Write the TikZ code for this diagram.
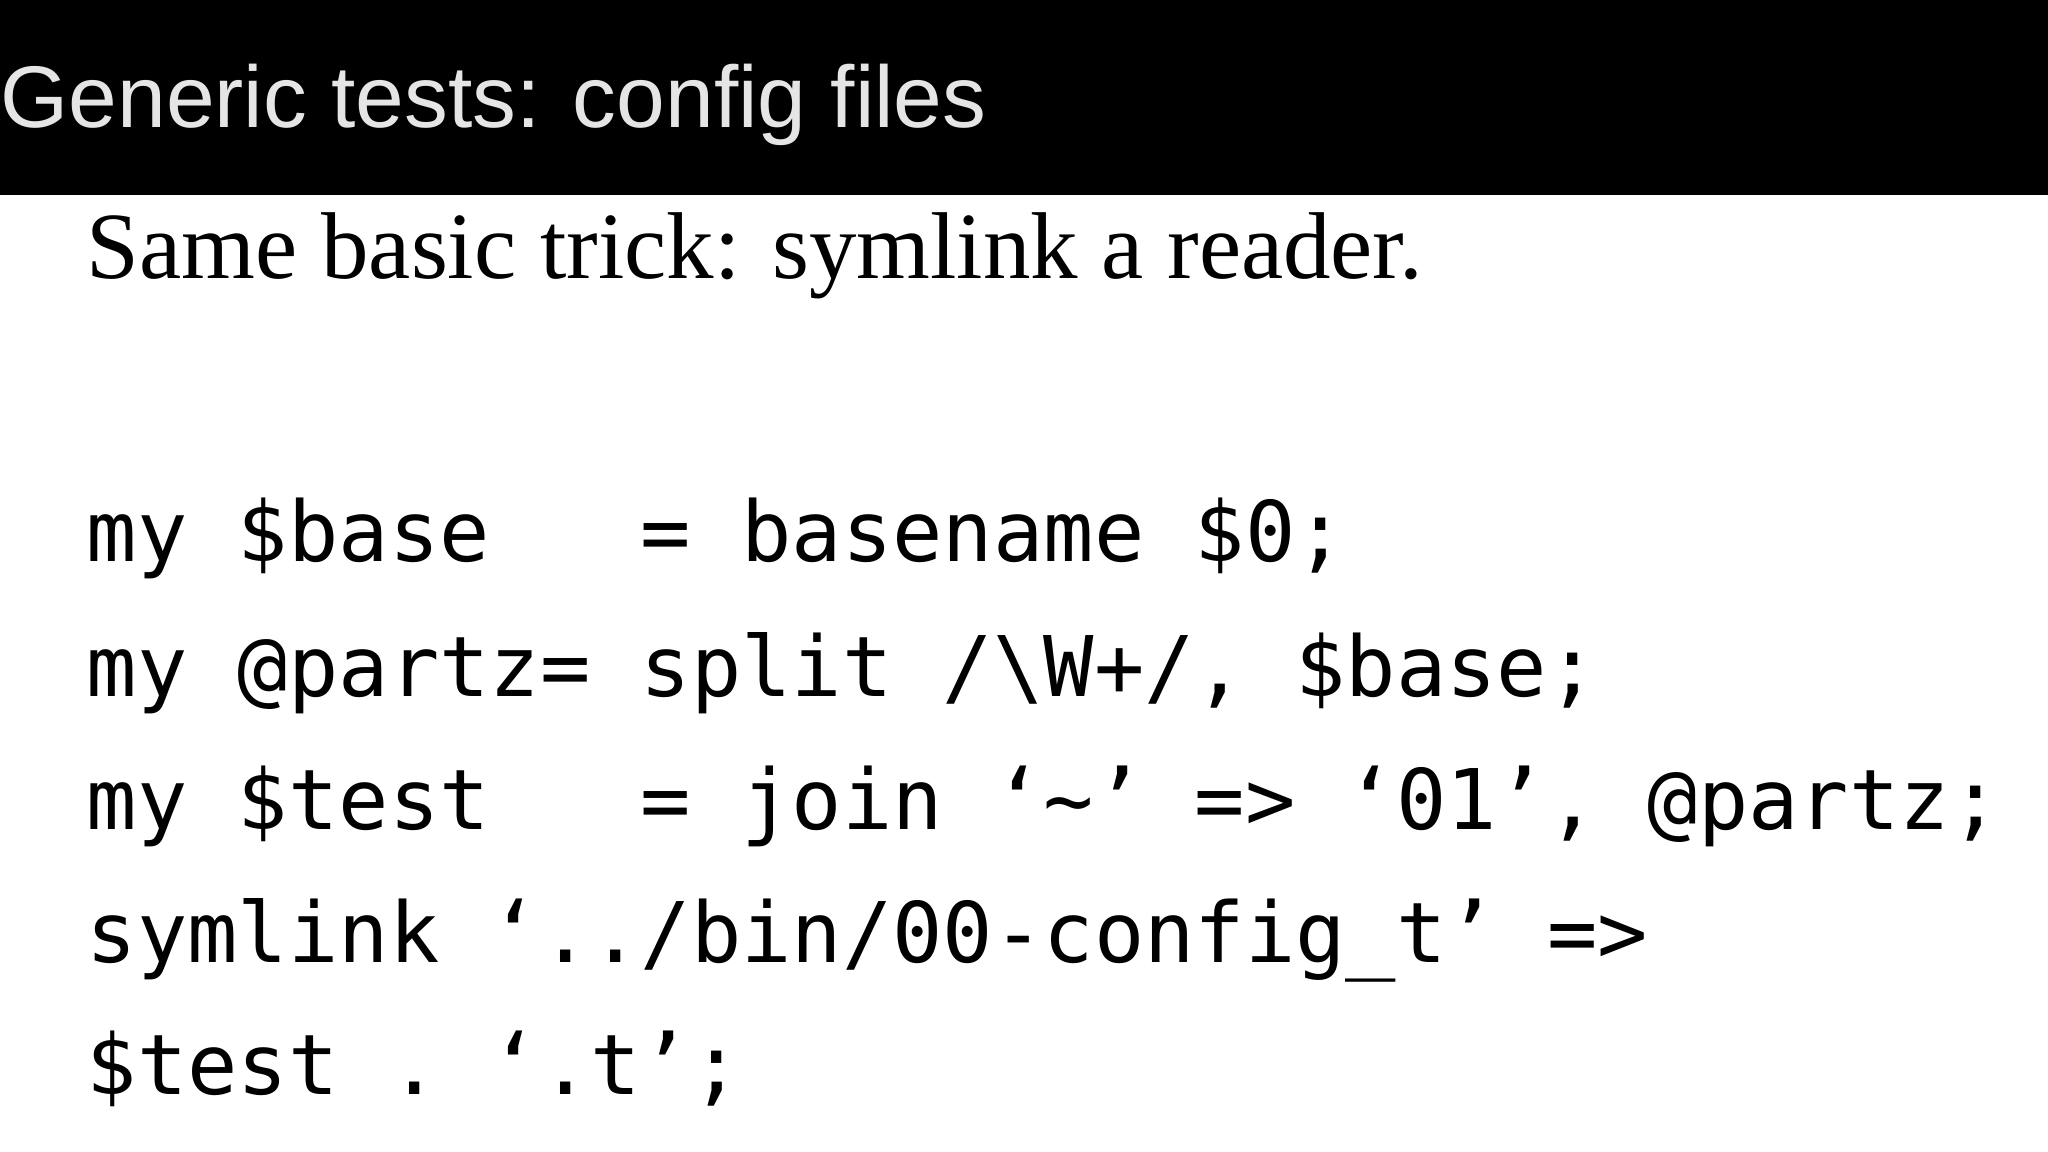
\documentclass[tikz,border=0pt]{standalone}
\usepackage{fontspec}
\setmainfont{Liberation Serif}
\newfontfamily\titlefont{Liberation Sans}
\newfontfamily\codefont{DejaVu Sans Mono}
\begin{document}
\begin{tikzpicture}[x=0.01306cm,y=-0.01306cm,
  code/.style={anchor=base west,inner sep=0pt,font=\codefont\fontsize{23.8pt}{24pt}\selectfont}]
\useasboundingbox (0,0) rectangle (1568,882);
\fill[black] (0,0) rectangle (1568,149);
\node[anchor=base west,inner sep=0pt,text=black!10,font=\titlefont\fontsize{24.9pt}{26pt}\selectfont] (title) at (0,98) {Generic tests: config files};
\node[anchor=base west,inner sep=0pt,font=\fontsize{27pt}{28pt}\selectfont] (sub) at (66,213) {Same basic trick: symlink a reader.};
\node[code] (l1) at (66,430) {my\ \$base\ \ \ =\ basename\ \$0;};
\node[code] (l2) at (66,533) {my\ @partz=\ split\ /\textbackslash W+/,\ \$base;};
\node[code] (l3) at (66,635) {my\ \$test\ \ \ =\ join\ ‘\textasciitilde’\ =>\ ‘01’,\ @partz;};
\node[code] (l4) at (66,737) {symlink\ ‘../bin/00-config\_t’\ =>};
\node[code] (l5) at (66,838) {\$test\ .\ ‘.t’;};
\end{tikzpicture}
\end{document}
